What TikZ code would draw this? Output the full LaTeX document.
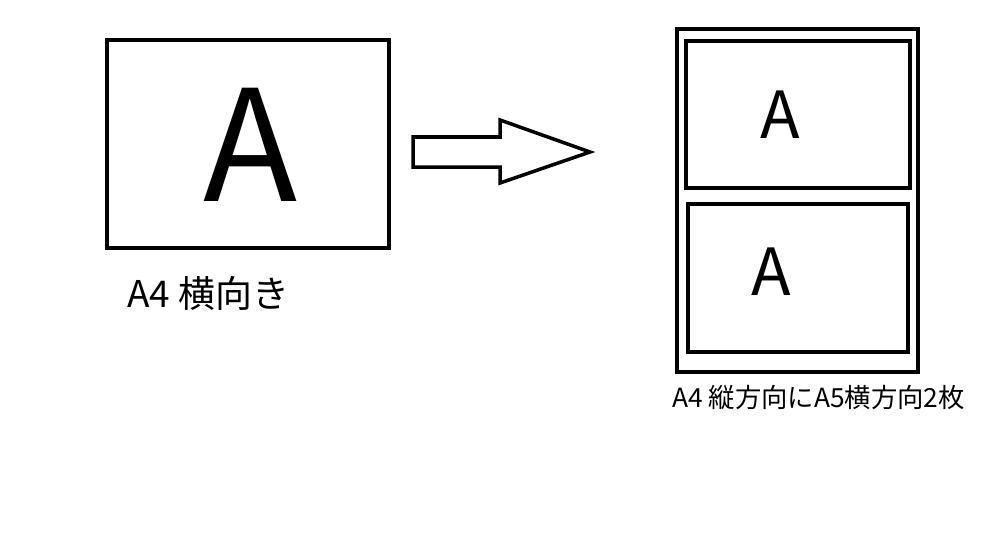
\documentclass[tikz,border=0pt]{standalone}
\usepackage{fontspec}
\setmainfont{Noto Sans CJK JP}
\tikzset{
  frame/.style={draw, line width=2pt},
  letter/.style={inner sep=0pt, anchor=center},
}
\begin{document}
\begin{tikzpicture}[x=0.02cm, y=-0.02cm]
  \useasboundingbox (0,0) rectangle (999,538);
  % landscape A4
  \node[frame, minimum width=282*0.02cm, minimum height=208*0.02cm, anchor=north west] (a4land) at (105,38) {};
  \node[letter, font=\fontsize{88}{88}\selectfont] (bigA) at (250,145) {A};
  \node[anchor=west, font=\fontsize{21}{21}\selectfont] (lab1) at (121,293) {A4 横向き};
  % block arrow
  \draw[frame] (413,137) -- (500,137) -- (500,120) -- (590,152) -- (500,183) -- (500,167) -- (413,167) -- cycle;
  % portrait A4 with two A5
  \node[frame, minimum width=241*0.02cm, minimum height=343*0.02cm, anchor=north west] (a4port) at (675,27) {};
  \node[frame, minimum width=224*0.02cm, minimum height=147*0.02cm, anchor=north west] (a5top) at (684,39) {};
  \node[frame, minimum width=220*0.02cm, minimum height=148*0.02cm, anchor=north west] (a5bot) at (686,202) {};
  \node[letter, font=\fontsize{37}{37}\selectfont] (topA) at (780,115) {A};
  \node[letter, font=\fontsize{37}{37}\selectfont] (botA) at (771,272) {A};
  \node[anchor=west, font=\fontsize{15}{15}\selectfont] (lab2) at (666,397) {A4 縦方向にA5横方向2枚};
\end{tikzpicture}
\end{document}
